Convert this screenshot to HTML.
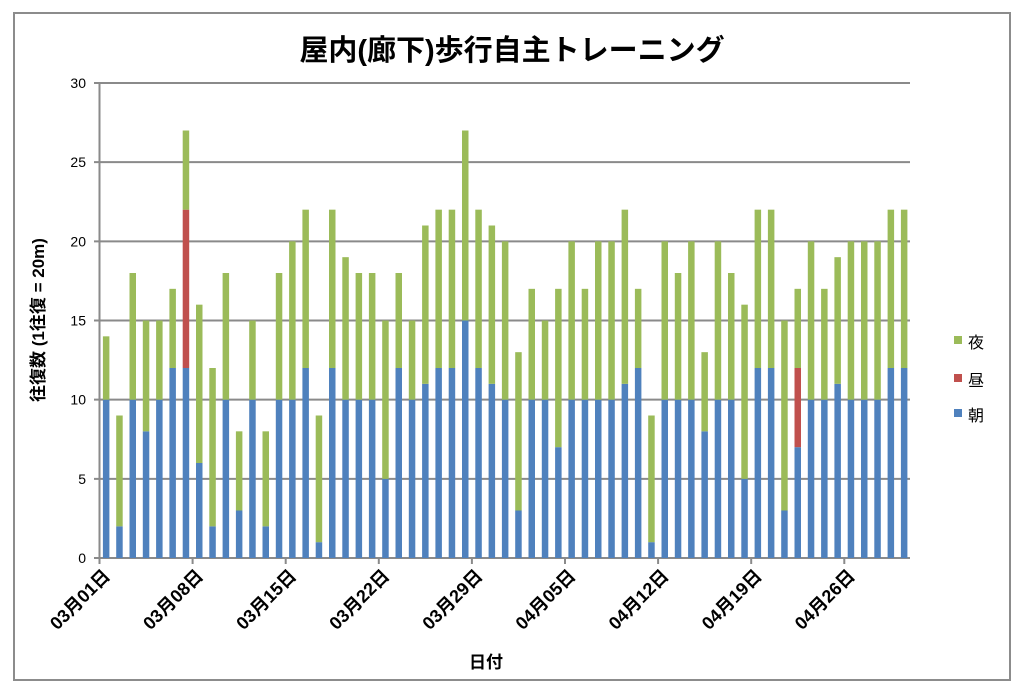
<!DOCTYPE html>
<html><head><meta charset="utf-8"><style>
body{margin:0;background:#fff}
svg{display:block}
text{font-family:"Liberation Sans","Noto Sans CJK JP",sans-serif}
</style></head><body>
<svg width="1024" height="693" xmlns="http://www.w3.org/2000/svg">
<rect x="14" y="13" width="996" height="667" fill="#fff" stroke="#8c8c8c" stroke-width="2"/>
<text x="512" y="60" text-anchor="middle" font-size="29" font-weight="bold" fill="#000">屋内(廊下)歩行自主トレーニング</text>
<g id="grid" stroke="#8a8a8a" stroke-width="2"></g>
<g id="bars"></g>
<g id="labels" font-size="18" font-weight="bold" fill="#000"></g>
<g font-size="14" fill="#000" text-anchor="end" id="ylab"></g>
<text transform="translate(44,320) rotate(-90)" text-anchor="middle" font-size="17" font-weight="bold">往復数 (1往復 = 20m)</text>
<text x="486" y="668" text-anchor="middle" font-size="17" font-weight="bold">日付</text>
<rect x="954" y="336" width="8" height="8" fill="#9bbb59"/><text x="968" y="348" font-size="16">夜</text>
<rect x="954" y="374" width="8" height="8" fill="#c0504d"/><text x="968" y="386" font-size="16">昼</text>
<rect x="954" y="409" width="8" height="8" fill="#4f81bd"/><text x="968" y="421" font-size="16">朝</text>
</svg>
<script>
const d=[[10,0,14],[2,0,9],[10,0,18],[8,0,15],[10,0,15],[12,0,17],[12,22,27],[6,0,16],[2,0,12],[10,0,18],[3,0,8],[10,0,15],[2,0,8],[10,0,18],[10,0,20],[12,0,22],[1,0,9],[12,0,22],[10,0,19],[10,0,18],[10,0,18],[5,0,15],[12,0,18],[10,0,15],[11,0,21],[12,0,22],[12,0,22],[15,0,27],[12,0,22],[11,0,21],[10,0,20],
[3,0,13],[10,0,17],[10,0,15],[7,0,17],[10,0,20],[10,0,17],[10,0,20],[10,0,20],[11,0,22],[12,0,17],[1,0,9],[10,0,20],[10,0,18],[10,0,20],[8,0,13],[10,0,20],[10,0,18],[5,0,16],[12,0,22],[12,0,22],[3,0,15],[7,12,17],[10,0,20],[10,0,17],[11,0,19],[10,0,20],[10,0,20],[10,0,20],[12,0,22],[12,0,22]];
const NS="http://www.w3.org/2000/svg";
function el(p,t,a,txt){const e=document.createElementNS(NS,t);for(const k in a)e.setAttribute(k,a[k]);if(txt!=null)e.textContent=txt;document.getElementById(p).appendChild(e);}
const x0=99.5,sp=13.3,y0=558,u=475/30;
for(let i=0;i<=6;i++){const y=y0-i*5*u;el('grid','line',{x1:94,x2:910,y1:y,y2:y});el('ylab','text',{x:86,y:y+5},String(i*5));}
el('grid','line',{x1:x0,x2:x0,y1:83,y2:558});
for(let k=0;k<=8;k++){const x=x0+k*7*sp;el('grid','line',{x1:x,x2:x,y1:558,y2:564});}
d.forEach((v,i)=>{const cx=x0+sp*(i+0.5),w=6.5,x=cx-w/2;const m=v[0],n=v[1],t=v[2];
el('bars','rect',{x:x,y:y0-m*u,width:w,height:m*u,fill:'#4f81bd'});
if(n>m)el('bars','rect',{x:x,y:y0-n*u,width:w,height:(n-m)*u,fill:'#c0504d'});
const b=Math.max(m,n);el('bars','rect',{x:x,y:y0-t*u,width:w,height:(t-b)*u,fill:'#9bbb59'});});
const labs=["03月01日","03月08日","03月15日","03月22日","03月29日","04月05日","04月12日","04月19日","04月26日"];
labs.forEach((s,k)=>{const x=x0+sp*(k*7+0.5)+5;el('labels','text',{transform:`translate(${x},577) rotate(-45)`,'text-anchor':'end'},s);});
</script>
</body></html>
